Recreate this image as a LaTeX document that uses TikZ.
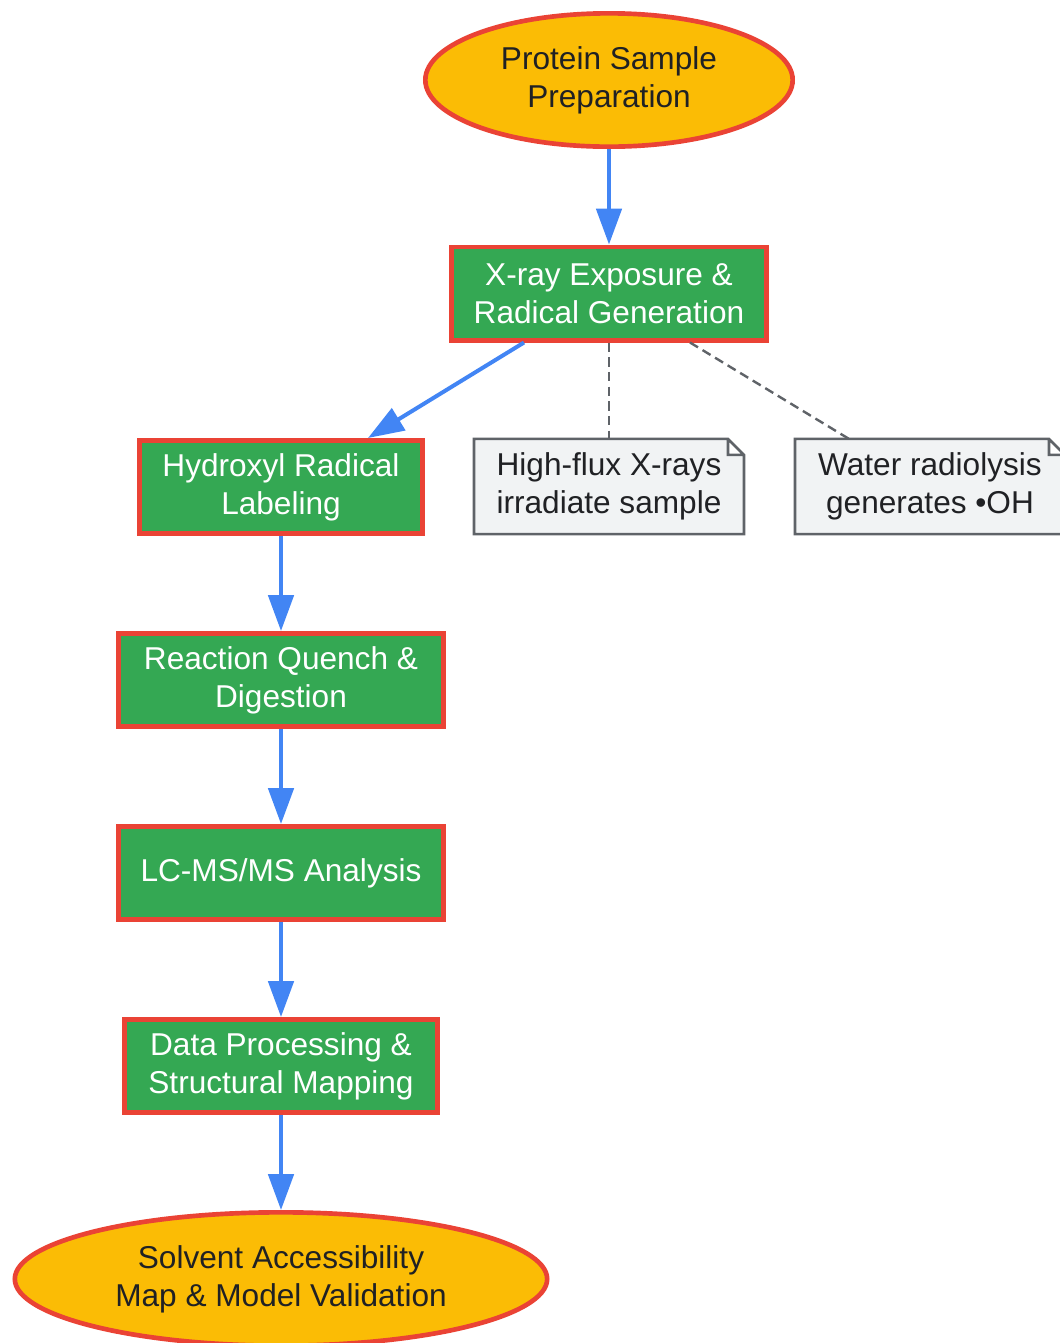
\documentclass[tikz,border=0pt]{standalone}
\usepackage{fontspec}
\setmainfont{Liberation Sans}
\usetikzlibrary{positioning, arrows.meta, shapes.geometric, backgrounds}
\definecolor{gyellow}{HTML}{FBBC05}
\definecolor{gred}{HTML}{EA4335}
\definecolor{ggreen}{HTML}{34A853}
\definecolor{gblue}{HTML}{4285F4}
\definecolor{ggrey}{HTML}{5F6368}
\definecolor{gpaper}{HTML}{F1F3F4}
\definecolor{gink}{HTML}{202124}
\tikzset{
  terminal/.style = {ellipse, draw=gred, fill=gyellow, line width=3.5pt, text=gink, inner sep=0pt, minimum width=#1, minimum height=100pt, align=center},
  stepbox/.style = {rectangle, draw=gred, fill=ggreen, line width=3.5pt, text=white, inner sep=0pt, minimum width=#1, minimum height=70pt, align=center},
  notebox/.style = {rectangle, inner sep=0pt, minimum width=202pt, minimum height=71pt, text=gink, align=center},
  notefold/.style = {draw=ggrey, fill=gpaper, line width=2pt},
  flow/.style = {draw=gblue, line width=3pt, -{Triangle[length=27pt, width=19pt]}},
  aside/.style = {draw=ggrey, line width=1.8pt, dash pattern=on 7pt off 4pt},
}
\begin{document}
\begin{tikzpicture}[x=0.75pt, y=-0.75pt, font=\fontsize{23.7pt}{28.5pt}\selectfont]
  \useasboundingbox (0,0) rectangle (1060,1343);

  \node[terminal=275.5pt] (prep) at (609,80) {Protein Sample\\Preparation};
  \node[stepbox=236.5pt] (xray) at (609,293.5) {X-ray Exposure \&\\Radical Generation};
  \node[stepbox=212.5pt] (hydro) at (281,487) {Hydroxyl Radical\\Labeling};
  \node[notebox] (hiflux) at (609,486.5) {High-flux X-rays\\irradiate sample};
  \node[notebox] (radio) at (930,486.5) {Water radiolysis\\generates •OH};
  \node[stepbox=244pt] (quench) at (281,680) {Reaction Quench \&\\Digestion};
  \node[stepbox=244pt] (lcms) at (281,873) {LC-MS/MS Analysis};
  \node[stepbox=235pt] (mapping) at (281,1066) {Data Processing \&\\Structural Mapping};
  \node[terminal=399.25pt] (access) at (281,1279) {Solvent Accessibility\\Map \& Model Validation};

  % dog-eared notes
  \begin{scope}[on background layer]
    \foreach \n in {hiflux, radio}
      \draw[notefold] (\n.south west) -- (\n.north west) -- ([xshift=-12pt]\n.north east)
        -- ([yshift=-12pt]\n.north east) -- (\n.south east) -- cycle
        ([xshift=-12pt]\n.north east) |- ([yshift=-12pt]\n.north east);
  \end{scope}

  \draw[flow] (prep) -- (xray);
  \draw[flow] ([xshift=-63.75pt]xray.south) -- ([xshift=65.25pt]hydro.north);
  \draw[flow] (hydro) -- (quench);
  \draw[flow] (quench) -- (lcms);
  \draw[flow] (lcms) -- (mapping);
  \draw[flow] (mapping) -- (access);

  \draw[aside] (xray.south) -- (hiflux.north);
  \draw[aside] ([xshift=60.75pt]xray.south) -- ([xshift=-60.75pt]radio.north);
\end{tikzpicture}
\end{document}
